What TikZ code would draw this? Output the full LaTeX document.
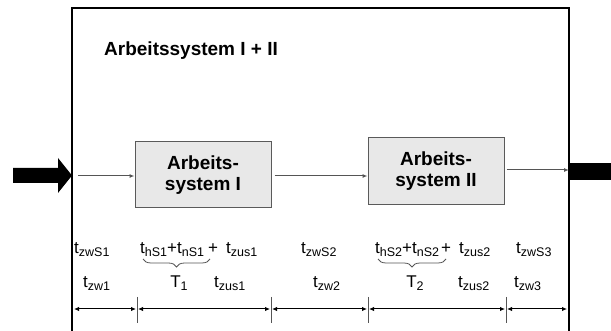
\documentclass[tikz,border=0pt]{standalone}
\usepackage{fontspec}
\setmainfont{Liberation Sans}
\usetikzlibrary{arrows.meta,decorations.pathreplacing}
\definecolor{boxfill}{HTML}{E8E8E8}
\definecolor{boxgray}{HTML}{5A5A5A}
\definecolor{linegray}{HTML}{555555}
\newcommand{\tsb}[1]{t\raisebox{-3pt}{\fontsize{12.5}{12.5}\selectfont #1}}
\newcommand{\Tsb}[1]{T\raisebox{-3pt}{\fontsize{12.5}{12.5}\selectfont #1}}
\begin{document}
\begin{tikzpicture}[x=1pt,y=-1pt,
  sysbox/.style={draw=boxgray, fill=boxfill, line width=1pt, minimum width=136pt,
    minimum height=66pt, align=center, inner sep=0pt,
    font=\fontsize{19}{21}\selectfont\bfseries},
  lbl/.style={anchor=base west, inner sep=0pt, font=\fontsize{17}{17}\selectfont},
  lblc/.style={anchor=base, inner sep=0pt, font=\fontsize{17}{17}\selectfont},
  flow/.style={draw=linegray, line width=1pt, -{Latex[length=5pt,width=4pt]}},
  dimline/.style={draw=black, line width=1pt,
    {Latex[length=5pt,width=4.5pt]}-{Latex[length=5pt,width=4.5pt]}},
  tickline/.style={draw=linegray, line width=0.8pt},
  bigarrow/.style={fill=black},
  bracestyle/.style={draw=linegray, line width=0.8pt, decorate,
    decoration={brace, mirror, amplitude=8pt}}
  ]
\useasboundingbox (0,0) rectangle (611,331);

% frame
\draw[line width=2pt] (72,340) -- (72,8) -- (569,8) -- (569,340);
\coordinate (inL) at (72,175.5);
\coordinate (outR) at (569,170);

% title
\node[anchor=base west, inner sep=0pt, font=\fontsize{19}{19}\selectfont\bfseries]
  (title) at (104,56) {Arbeitssystem I + II};

% big arrows
\fill[bigarrow] (13,168) -- (58,168) -- (58,158) -- (inL) -- (58,193) -- (58,183) -- (13,183) -- cycle;
\fill[bigarrow] (570,163) rectangle (611,180);

% boxes
\node[sysbox] (b1) at (203,175) {Arbeits-\\system I};
\node[sysbox, minimum height=67pt] (b2) at (436,171.5) {Arbeits-\\system II};

% flow arrows
\coordinate (inStart) at (78,176);
\draw[flow] (inStart) -- (inStart -| b1.west);
\draw[flow] ([xshift=3pt]b1.east |- inStart) -- (inStart -| b2.west);
\draw[flow] ([xshift=2pt]b2.east |- outR) -- (outR);

% row 1
\node[lbl] (zwS1) at (74,254) {\tsb{zwS1}};
\node[lbl] (hn1) at (140,254) {\tsb{hS1}+\tsb{nS1}};
\node[lblc] (p1) at (213,254) {+};
\node[lbl] (zus1a) at (226,254) {\tsb{zus1}};
\node[lbl] (zwS2) at (301,254) {\tsb{zwS2}};
\node[lbl] (hn2) at (375,254) {\tsb{hS2}+\tsb{nS2}};
\node[lblc] (p2) at (446,254) {+};
\node[lbl] (zus2a) at (459,254) {\tsb{zus2}};
\node[lbl] (zwS3) at (516,254) {\tsb{zwS3}};

% braces
\coordinate (br1a) at (143,259);
\coordinate (br1b) at (210,259);
\coordinate (br2a) at (378,259);
\coordinate (br2b) at (446,259);
\draw[bracestyle] (br1a) -- (br1b);
\draw[bracestyle] (br2a) -- (br2b);

% row 2
\node[lbl] (zw1) at (83,288) {\tsb{zw1}};
\node[lblc] (T1) at (179,288) {\Tsb{1}};
\node[lbl] (zus1b) at (214,288) {\tsb{zus1}};
\node[lbl] (zw2) at (313,288) {\tsb{zw2}};
\node[lblc] (T2) at (415,288) {\Tsb{2}};
\node[lbl] (zus2b) at (458,288) {\tsb{zus2}};
\node[lbl] (zw3) at (514,288) {\tsb{zw3}};

% dimension line
\coordinate (d0) at (73,309);
\coordinate (d1) at (137,309);
\coordinate (d2) at (271,309);
\coordinate (d3) at (368,309);
\coordinate (d4) at (506,309);
\coordinate (d5) at (568,309);
\foreach \a/\b in {d0/d1,d1/d2,d2/d3,d3/d4,d4/d5}
  \draw[dimline] ([xshift=1pt]\a) -- ([xshift=-1pt]\b);
\foreach \d in {d1,d2,d3,d4}
  \draw[tickline] (\d) ++(0,-12) -- ++(0,26);
\end{tikzpicture}
\end{document}
